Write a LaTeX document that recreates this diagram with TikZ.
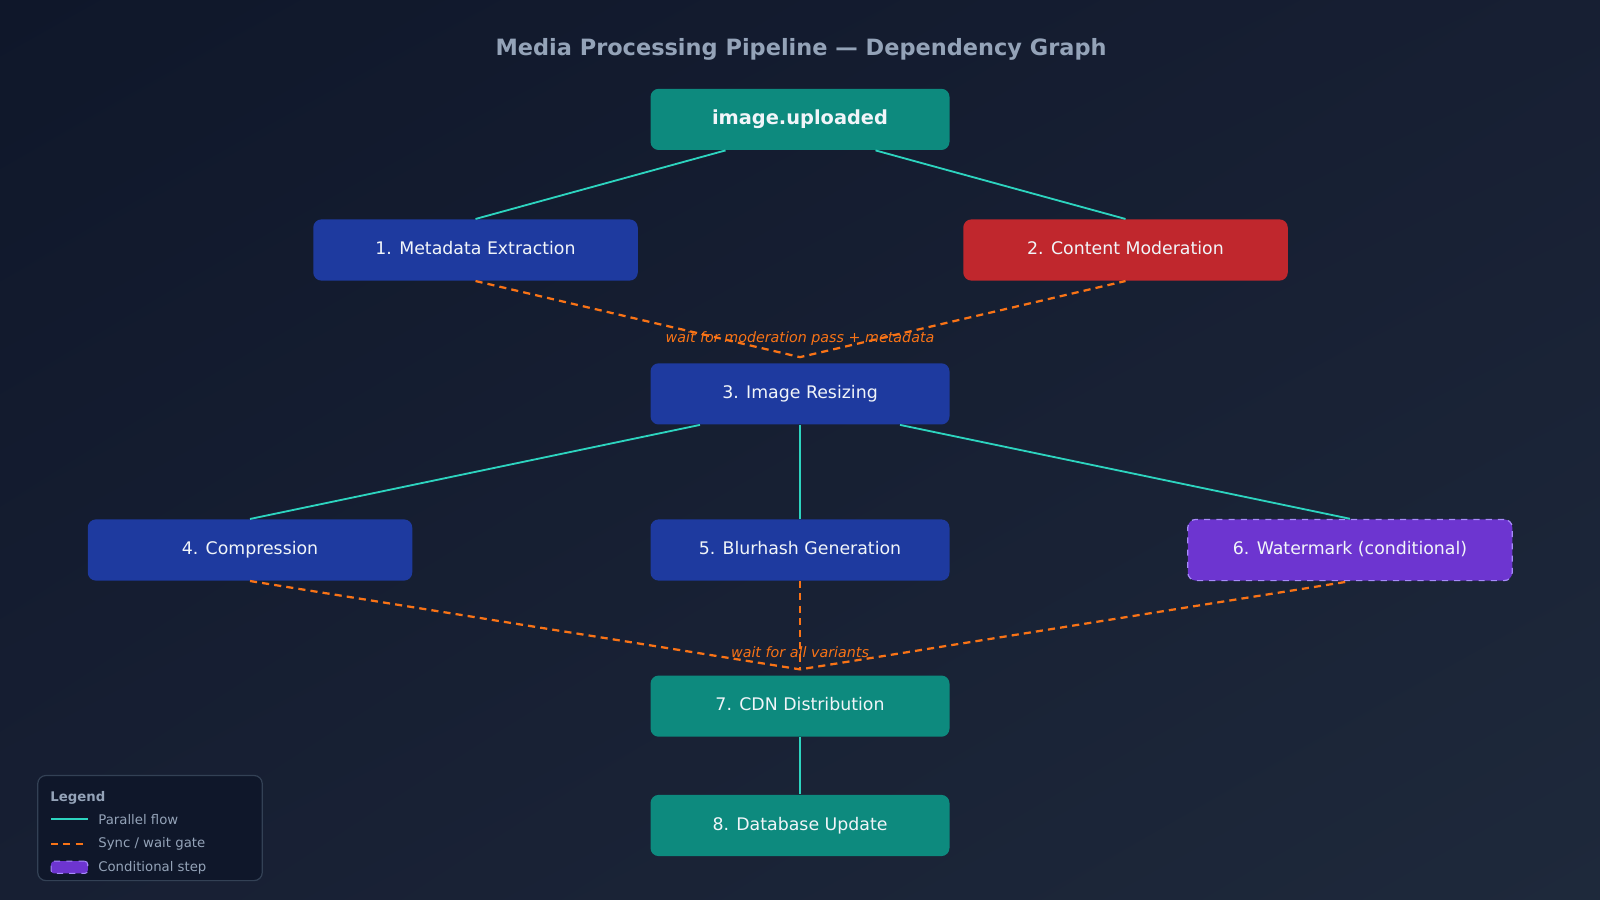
\documentclass[tikz,border=0pt]{standalone}
\usepackage{fontspec}
\setmainfont{DejaVu Sans}
\usetikzlibrary{calc,shadings}
\definecolor{bgA}{HTML}{0F172A}\definecolor{bgB}{HTML}{1E293B}\definecolor{bgM}{HTML}{171F33}
\definecolor{teal1}{HTML}{0D8A7E}\definecolor{blue1}{HTML}{1E3A9F}
\definecolor{red1}{HTML}{C0272D}\definecolor{purp}{HTML}{6D35D0}\definecolor{purpB}{HTML}{A78BFA}
\definecolor{cyan1}{HTML}{2DD4BF}\definecolor{orng}{HTML}{F97316}\definecolor{grey1}{HTML}{94A3B8}
\definecolor{txt}{HTML}{F1F5F9}\definecolor{legbg}{HTML}{0F172A}\definecolor{legbd}{HTML}{334155}
\begin{document}
\begin{tikzpicture}[x=0.5pt,y=-0.5pt,
 box/.style={rounded corners=4pt,minimum height=30pt,text=txt,font=\fontsize{8.5}{10}\selectfont,inner sep=0pt,text height=6.5pt,text depth=1.8pt},
 w1/.style={minimum width=146.5pt},w2/.style={minimum width=159pt},
 par/.style={cyan1,line width=0.9pt},
 sync/.style={orng,line width=1.1pt,dash pattern=on 3.5pt off 2.5pt},
 gate/.style={orng,font=\itshape\fontsize{7}{8}\selectfont},
 lg/.style={grey1,font=\fontsize{6.5}{8}\selectfont,anchor=west,inner sep=0pt}]
\shade[upper left=bgA,lower right=bgB,upper right=bgM,lower left=bgM] (0,0) rectangle (1568,882);
\useasboundingbox (0,0) rectangle (1568,882);
\node[grey1,font=\bfseries\fontsize{11}{13}\selectfont] (title) at (785,48) {Media Processing Pipeline — Dependency Graph};
\node[box,w1,fill=teal1,font=\bfseries\fontsize{9.5}{11}\selectfont] (src) at (784,117) {image.uploaded};
\node[box,w2,fill=blue1] (n1) at (466,245) {1. Metadata Extraction};
\node[box,w2,fill=red1] (n2) at (1103,245) {2. Content Moderation};
\node[box,w1,fill=blue1] (n3) at (784,386) {3. Image Resizing};
\node[box,w2,fill=blue1] (n4) at (245,539) {4. Compression};
\node[box,w1,fill=blue1] (n5) at (784,539) {5. Blurhash Generation};
\node[box,w2,fill=purp,draw=purpB,dashed,line width=0.6pt] (n6) at (1323,539) {6. Watermark (conditional)};
\node[box,w1,fill=teal1] (n7) at (784,692) {7. CDN Distribution};
\node[box,w1,fill=teal1] (n8) at (784,809) {8. Database Update};
\coordinate (g1) at (784,350);
\coordinate (g2) at (784,656);
\draw[par] ($(src.south)+(-73,0)$) -- (n1.north);
\draw[par] ($(src.south)+(74,0)$) -- (n2.north);
\draw[sync] (n1.south) -- (g1) -- (n2.south);
\node[gate] (l1) at (784,332) {wait for moderation pass + metadata};
\draw[par] ($(n3.south)+(-98,0)$) -- (n4.north);
\draw[par] (n3.south) -- (n5.north);
\draw[par] ($(n3.south)+(98,0)$) -- (n6.north);
\draw[sync] (n4.south) -- (g2) -- (n6.south);
\draw[sync] (n5.south) -- (g2);
\node[gate] (l2) at (784,639) {wait for all variants};
\draw[par] (n7.south) -- (n8.north);
% legend
\node[draw=legbd,fill=legbg,rounded corners=4pt,minimum width=110pt,minimum height=51.5pt,line width=0.6pt] (leg) at (147,811.5) {};
\node[lg,font=\bfseries\fontsize{6.5}{8}\selectfont] (lt) at (49,782) {Legend};
\coordinate (a1) at (50,803);\coordinate (a2) at (86,803);
\draw[par] (a1) -- (a2);
\node[lg] (lp) at (96,803) {Parallel flow};
\coordinate (b1) at (50,827);\coordinate (b2) at (86,827);
\draw[sync] (b1) -- (b2);
\node[lg] (ls) at (96,827) {Sync / wait gate};
\node[fill=purp,draw=purpB,dashed,rounded corners=1.5pt,minimum width=18pt,minimum height=6pt,inner sep=0pt,line width=0.5pt] (lc) at (68,850) {};
\node[lg] (lct) at (96,850) {Conditional step};
\end{tikzpicture}
\end{document}
